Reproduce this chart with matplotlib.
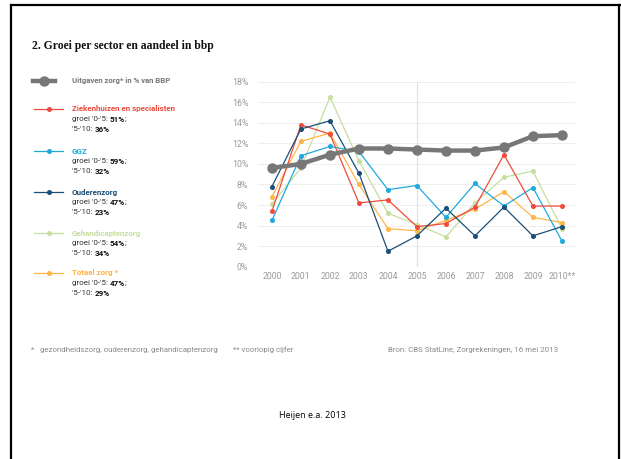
import matplotlib
matplotlib.use("Agg")
import matplotlib.pyplot as plt
from matplotlib.lines import Line2D
from matplotlib.text import Annotation

years = [2000, 2001, 2002, 2003, 2004, 2005, 2006, 2007, 2008, 2009, 2010]
xlabels = ["2000", "2001", "2002", "2003", "2004", "2005", "2006", "2007", "2008", "2009", "2010**"]
yticks = [0, 2, 4, 6, 8, 10, 12, 14, 16, 18]

bbp = [9.6, 10.0, 10.9, 11.5, 11.5, 11.4, 11.3, 11.3, 11.6, 12.7, 12.8]
ziekenhuizen = [5.4, 13.8, 12.9, 6.2, 6.5, 3.9, 4.2, 5.8, 10.9, 5.9, 5.9]
ggz = [4.5, 10.8, 11.7, 11.2, 7.5, 7.9, 4.8, 8.1, 5.9, 7.7, 2.5]
ouderenzorg = [7.8, 13.4, 14.2, 9.1, 1.5, 3.0, 5.7, 3.0, 5.8, 3.0, 3.9]
gehandicapten = [6.1, 9.6, 16.5, 10.3, 5.2, 4.1, 2.9, 6.2, 8.7, 9.3, 3.7]
totaal = [6.8, 12.2, 13.0, 8.0, 3.7, 3.5, 4.5, 5.6, 7.3, 4.8, 4.3]

series_names = ["Ziekenhuizen en specialisten", "GGZ", "Ouderenzorg", "Gehandicaptenzorg", "Totaal zorg *"]
growth_0_5 = ["51%", "59%", "47%", "54%", "47%"]
growth_5_10 = ["36%", "32%", "23%", "34%", "29%"]
colors = ["#ee4c3e", "#1fa9dd", "#1b4f78", "#c6df9f", "#ffb648"]
series = [ziekenhuizen, ggz, ouderenzorg, gehandicapten, totaal]
draw_order = [3, 4, 1, 0, 2]

W, H = 621, 459
fig = plt.figure(figsize=(W / 100, H / 100), dpi=100)
fig.patch.set_facecolor("white")

def fx(px):
    return px / W

def fy(py):
    return 1 - py / H

# frame
for (x0, y0, x1, y1) in [(11, 5, 620, 5), (11, 5, 11, 459), (619, 5, 619, 459)]:
    fig.add_artist(Line2D([fx(x0), fx(x1)], [fy(y0), fy(y1)], color="black", lw=1.6))

ax_l, ax_r, ax_t, ax_b = 258, 575, 81.7, 266.7
ax = fig.add_axes([fx(ax_l), fy(ax_b), fx(ax_r - ax_l), (ax_b - ax_t) / H])
ax.set_xlim(1999.52, 2010.45)
ax.set_ylim(0, 18)
for s in ax.spines.values():
    s.set_visible(False)
ax.set_yticks(yticks)
ax.set_yticklabels([f"{v}%" for v in yticks])
ax.set_xticks(years)
ax.set_xticklabels(xlabels)
ax.tick_params(length=0, labelsize=6.3, labelcolor="#9a9a9a", pad=4)
for lab in ax.get_xticklabels() + ax.get_yticklabels():
    lab.set_fontfamily("Roboto")
ax.yaxis.set_tick_params(pad=7)
ax.grid(axis="y", color="#d8d8d8", lw=0.6, ls=(0, (1, 1)))
ax.axvline(2005, color="#e2e2e2", lw=0.9, zorder=0)

for i in draw_order:
    ax.plot(years, series[i], color=colors[i], lw=0.9, marker="o", ms=2.6,
            mec=colors[i], mfc=colors[i], clip_on=False, zorder=3)
ax.plot(years, bbp, color="#777777", lw=3.2, marker="o", ms=6.5, clip_on=False, zorder=5)

# title
fig.text(fx(32), fy(46), "2. Groei per sector en aandeel in bbp", fontsize=8.4,
         fontweight="bold", family="Liberation Serif", va="center", ha="left", color="#111111")

# legend
fig.add_artist(Line2D([fx(33), fx(55)], [fy(81), fy(81)], color="#777777", lw=3.2))
fig.add_artist(Line2D([fx(44)], [fy(81)], color="#777777", marker="o", ms=6.5, lw=0))
fig.text(fx(72), fy(81), "Uitgaven zorg* in % van BBP", fontsize=5.6, color="#777777",
         family="Roboto", va="center", fontweight="bold")


def after(prev, s, bold=False, color="#111111"):
    a = Annotation(s, xy=(1, 0.5), xycoords=prev, va="center", ha="left",
                   fontsize=5.8, color=color, family="Roboto",
                   fontweight="bold" if bold else "normal", annotation_clip=False)
    fig.add_artist(a)
    return a


leg_y = [109, 151, 192, 233, 273]
for i in range(5):
    y = leg_y[i]
    fig.add_artist(Line2D([fx(34), fx(63)], [fy(y), fy(y)], color=colors[i], lw=0.9))
    fig.add_artist(Line2D([fx(49)], [fy(y)], color=colors[i], marker="o", ms=2.6, lw=0))
    fig.text(fx(72), fy(y), series_names[i], fontsize=5.8, color=colors[i],
             family="Roboto", fontweight="bold", va="center")
    t1 = fig.text(fx(72), fy(y + 10.3), "groei '0-'5: ", fontsize=5.8, color="#333333",
                  family="Roboto", va="center")
    a1 = after(t1, growth_0_5[i], bold=True)
    after(a1, ";", color="#333333")
    t2 = fig.text(fx(72), fy(y + 20.3), "'5-'10: ", fontsize=5.8, color="#333333",
                  family="Roboto", va="center")
    after(t2, growth_5_10[i], bold=True)

# footer
fs = 5.7
fig.text(fx(31), fy(350), "*", fontsize=fs, color="#8a8a8a", family="Roboto", va="center")
fig.text(fx(40), fy(350), "gezondheidszorg, ouderenzorg, gehandicaptenzorg", fontsize=fs,
         color="#8a8a8a", family="Roboto", va="center")
fig.text(fx(233), fy(350), "** voorlopig cijfer", fontsize=fs, color="#8a8a8a",
         family="Roboto", va="center")
fig.text(fx(388), fy(350), "Bron: CBS StatLine, Zorgrekeningen, 16 mei 2013", fontsize=fs,
         color="#8a8a8a", family="Roboto", va="center")

fig.text(fx(312), fy(416), "Heijen e.a. 2013", fontsize=6.5, color="black",
         family="Open Sans", va="center", ha="center")

fig.savefig("out.png", dpi=100)
